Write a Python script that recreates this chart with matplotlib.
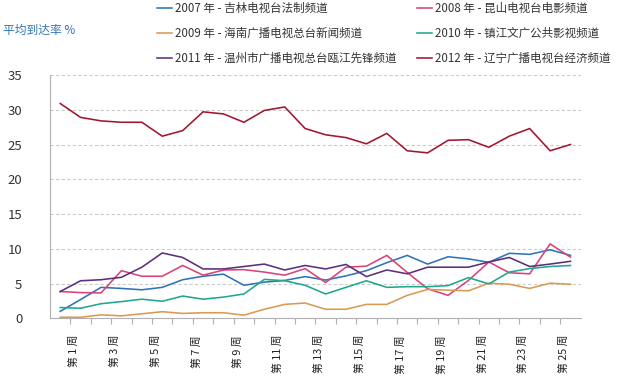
import matplotlib
matplotlib.use("Agg")
import matplotlib.pyplot as plt
import matplotlib.transforms as mtransforms
import numpy as np

plt.rcParams['font.family'] = ['Noto Sans CJK SC', 'DejaVu Sans']

weeks = list(range(1, 27))
week_labels = [f"第 {w} 周" for w in range(1, 26, 2)]

series_names = [
    "2007 年 - 吉林电视台法制频道",
    "2008 年 - 昆山电视台电影频道",
    "2009 年 - 海南广播电视总台新闻频道",
    "2010 年 - 镇江文广公共影视频道",
    "2011 年 - 温州市广播电视总台瓯江先锋频道",
    "2012 年 - 辽宁广播电视台经济频道",
]
s2007 = [1.0, 2.7, 4.45, 4.3, 4.1, 4.45, 5.55, 6.05, 6.35, 4.75, 5.2, 5.45, 6.0,
         5.5, 6.1, 6.85, 8.0, 9.05, 7.8, 8.85, 8.55, 8.05, 9.35, 9.2, 9.85, 9.05]
s2008 = [3.85, 3.7, 3.65, 6.85, 6.05, 6.05, 7.6, 6.2, 6.95, 7.0, 6.65, 6.2, 7.15,
         5.15, 7.35, 7.5, 9.05, 6.6, 4.25, 3.3, 5.45, 8.1, 6.55, 6.4, 10.7, 8.8]
s2009 = [0.15, 0.15, 0.5, 0.35, 0.65, 0.95, 0.7, 0.8, 0.8, 0.45, 1.3, 2.0, 2.2,
         1.3, 1.3, 2.0, 2.0, 3.3, 4.15, 4.05, 3.95, 5.05, 4.9, 4.3, 5.05, 4.9]
s2010 = [1.55, 1.45, 2.1, 2.4, 2.75, 2.45, 3.2, 2.75, 3.05, 3.5, 5.6, 5.4, 4.75,
         3.5, 4.45, 5.4, 4.45, 4.55, 4.55, 4.7, 5.85, 4.95, 6.65, 7.15, 7.45, 7.6]
s2011 = [3.85, 5.4, 5.55, 5.9, 7.35, 9.4, 8.75, 7.1, 7.1, 7.45, 7.8, 6.95, 7.6,
         7.1, 7.75, 6.0, 6.95, 6.4, 7.35, 7.35, 7.35, 8.1, 8.75, 7.45, 7.8, 8.2]
s2012 = [30.9, 28.9, 28.4, 28.2, 28.2, 26.2, 27.0, 29.7, 29.4, 28.2, 29.9, 30.4, 27.3,
         26.4, 26.0, 25.1, 26.6, 24.1, 23.8, 25.6, 25.7, 24.6, 26.2, 27.3, 24.1, 25.0]
y_ticks = [0, 5, 10, 15, 20, 25, 30, 35]

colors = ["#2f74b5", "#d9437a", "#d99a52", "#1fa88c", "#5b2f7d", "#a3162f"]
all_series = [s2007, s2008, s2009, s2010, s2011, s2012]

W, H = 620, 377
fig = plt.figure(figsize=(W / 100, H / 100), dpi=100)
ax = fig.add_axes([50 / W, 1 - 318.3 / H, (580.7 - 50) / W, (318.3 - 75) / H])

lines = []
for s, c, n in zip(all_series, colors, series_names):
    ln, = ax.plot(weeks, s, color=c, lw=1.15, label=n, solid_joinstyle='miter')
    lines.append(ln)

ax.set_xlim(0.5, 26.5)
ax.set_ylim(0, 35)
ax.set_yticks(y_ticks)
ax.set_yticklabels([str(v) for v in y_ticks], fontsize=9.5, color="#333333")
ax.tick_params(axis='y', length=0, pad=20)
for v in y_ticks[1:]:
    ax.axhline(v, color="#cccccc", lw=0.8, ls=(0, (3, 2)), zorder=0)

# category boundary ticks
ax.set_xticks([w + 0.5 for w in weeks[:-1]], minor=True)
ax.tick_params(axis='x', which='minor', length=4, color="#b0b0b0", width=0.8)
label_pos = list(range(1, 26, 2))
ax.set_xticks(label_pos)
ax.set_xticklabels(week_labels, rotation=90, fontsize=7.8, color="#222222", va='top', ha='center')
ax.tick_params(axis='x', which='major', length=0, pad=12)
offset = mtransforms.ScaledTranslation(14 / 100, 0, fig.dpi_scale_trans)
for lab in ax.get_xticklabels():
    lab.set_transform(lab.get_transform() + offset)

for sp in ['top', 'right']:
    ax.spines[sp].set_visible(False)
ax.spines['left'].set_color("#b0b0b0")
ax.spines['bottom'].set_color("#b0b0b0")
ax.spines['left'].set_linewidth(0.8)
ax.spines['bottom'].set_linewidth(0.8)

# legend: two columns placed separately
leg_kw = dict(frameon=False, fontsize=8.3, handlelength=1.3, handletextpad=0.26,
              labelspacing=1.05, borderpad=0, borderaxespad=0, loc='upper left')
leg1 = fig.legend([lines[0], lines[2], lines[4]], [series_names[0], series_names[2], series_names[4]],
                  bbox_to_anchor=(157 / W, 1 - 2.0 / H), **leg_kw)
leg2 = fig.legend([lines[1], lines[3], lines[5]], [series_names[1], series_names[3], series_names[5]],
                  bbox_to_anchor=(417 / W, 1 - 2.0 / H), **leg_kw)
for leg in (leg1, leg2):
    for t in leg.get_texts():
        t.set_color("#333333")

fig.text(3 / W, 1 - 30 / H, "平均到达率 %", fontsize=8.5, color="#2e75b6", va='center', ha='left')

fig.savefig("out.png", dpi=100)
